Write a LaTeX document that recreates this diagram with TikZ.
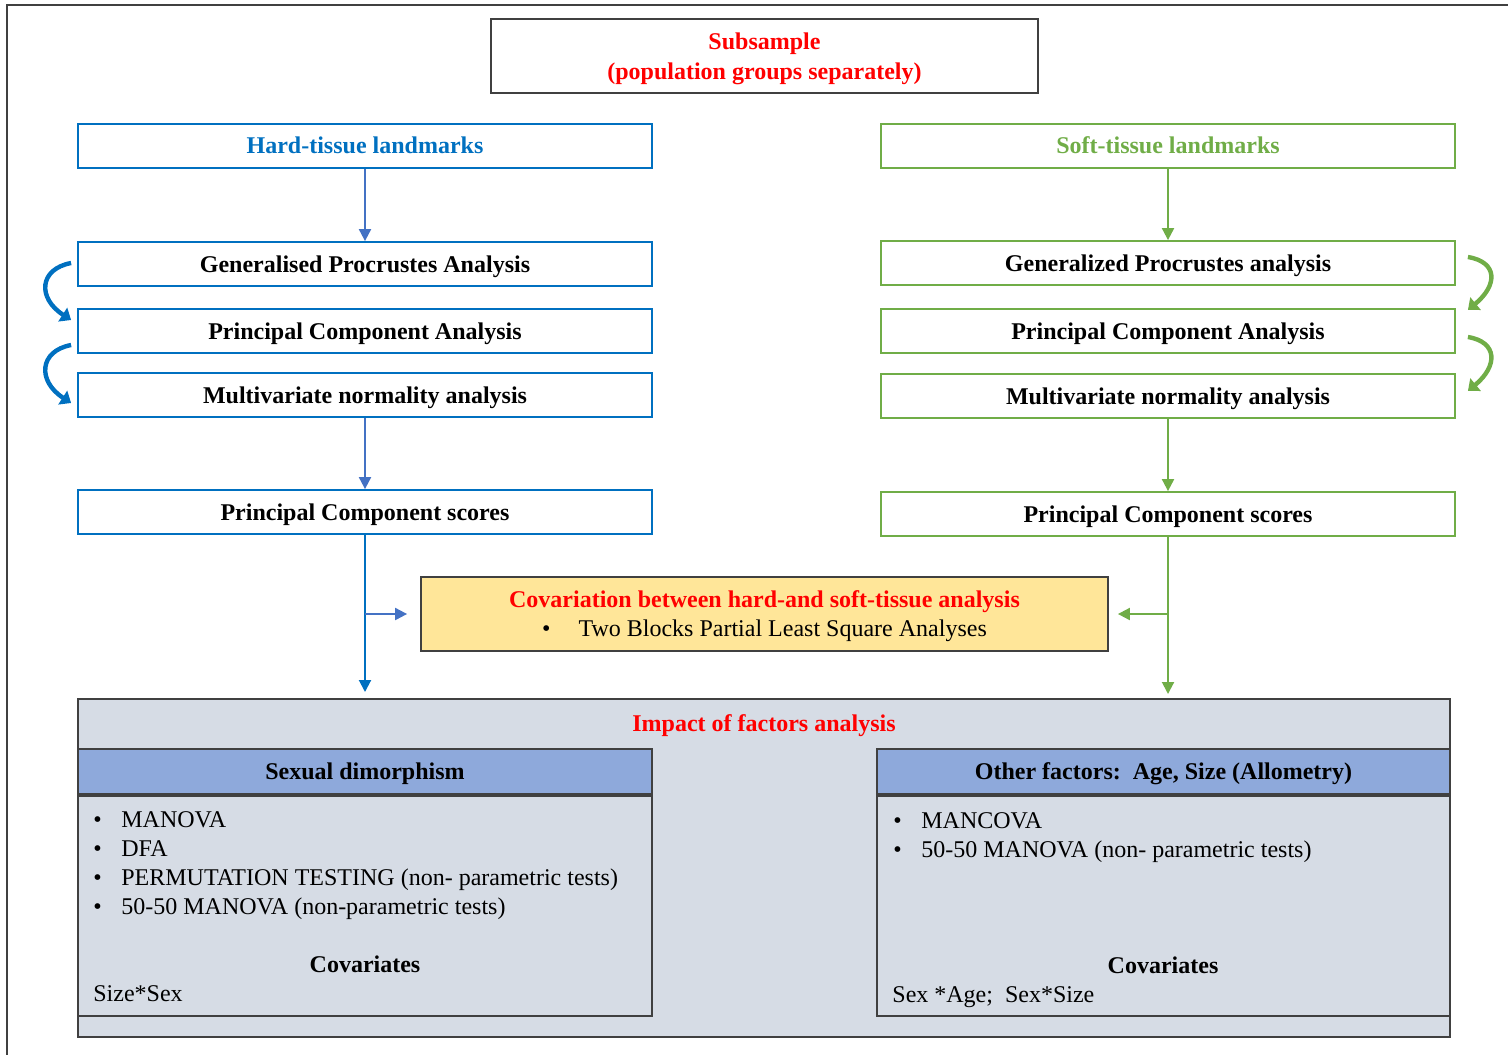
\documentclass[tikz,border=0pt]{standalone}
\usepackage{fontspec}
\setmainfont{Liberation Serif}
\usetikzlibrary{arrows.meta,calc}

\definecolor{hardblue}{RGB}{0,112,192}
\definecolor{arrowblue}{RGB}{68,114,196}
\definecolor{softgreen}{RGB}{112,173,71}
\definecolor{covyellow}{RGB}{255,230,153}
\definecolor{impactgrey}{RGB}{214,220,229}
\definecolor{headblue}{RGB}{142,169,219}
\definecolor{darkline}{RGB}{64,64,64}

\tikzset{
  every node/.style={font=\fontsize{12}{14.5}\selectfont, inner sep=0pt},
  colbox/.style={draw, line width=0.9pt, minimum width=287pt, minimum height=22pt, text height=8pt, text depth=0pt, font=\fontsize{12}{14.5}\selectfont\bfseries},
  hardbox/.style={colbox, draw=hardblue},
  softbox/.style={colbox, draw=softgreen},
  headbox/.style={draw=darkline, fill=headblue, line width=1pt, minimum width=287pt, minimum height=22.5pt, text height=8pt, text depth=0pt, font=\fontsize{12}{14.5}\selectfont\bfseries},
  listbox/.style={draw=darkline, line width=1pt, minimum width=287pt, minimum height=110pt},
  boldtext/.style={font=\fontsize{12}{14.5}\selectfont\bfseries},
  flow/.style={line width=1pt, -{Triangle[width=6pt,length=6pt]}},
  turn/.style={line width=2.2pt, -{Triangle[width=8pt,length=5pt]}},
}

\begin{document}
\begin{tikzpicture}[x=0.5pt,y=-0.5pt]
\useasboundingbox (0,0) rectangle (1508,1054);

%Outer frame
\draw[line width=1.2pt, darkline] (1520,5) -- (7,5) -- (7,1070);

% Subsample
\node[draw=darkline, line width=1pt, minimum width=273.5pt, minimum height=37pt, text depth=0pt, align=center, text=red, font=\fontsize{12}{15}\selectfont\bfseries] (subsample) at (764.5,56) {Subsample\\(population groups separately)};

% Hard-tissue column
\node[hardbox, text=hardblue] (hard) at (365,146) {Hard-tissue landmarks};
\node[hardbox] (gpaL) at (365,264) {Generalised Procrustes Analysis};
\node[hardbox] (pcaL) at (365,331) {Principal Component Analysis};
\node[hardbox] (mnaL) at (365,395) {Multivariate normality analysis};
\node[hardbox] (pcsL) at (365,512) {Principal Component scores};

% Soft-tissue column
\node[softbox, text=softgreen] (soft) at (1168,146) {Soft-tissue landmarks};
\node[softbox] (gpaR) at (1168,263) {Generalized Procrustes analysis};
\node[softbox] (pcaR) at (1168,331) {Principal Component Analysis};
\node[softbox] (mnaR) at (1168,396) {Multivariate normality analysis};
\node[softbox] (pcsR) at (1168,514) {Principal Component scores};

% Covariation
\node[draw=darkline, fill=covyellow, line width=0.9pt, minimum width=343.5pt, minimum height=37pt, text depth=0pt, align=center] (cov) at (764.5,614) {{\color{red}\bfseries Covariation between hard-and soft-tissue analysis}\\\textbullet\hspace{14pt}Two Blocks Partial Least Square Analyses};

% Impact of factors
\node[draw=darkline, fill=impactgrey, line width=1pt, minimum width=686pt, minimum height=169pt] (impact) at (764,868) {};
\node[boldtext, text=red, text height=8pt, text depth=0pt] (impactTitle) at (764,723) {Impact of factors analysis};
\node[headbox] (sexHd) at (365,771.5) {Sexual dimorphism};
\node[listbox] (sexBody) at (365,906) {};
\node[headbox, minimum width=286.5pt] (otherHd) at (1163.5,771.5) {Other factors:~~Age, Size (Allometry)};
\node[listbox, minimum width=286.5pt] (otherBody) at (1163.5,906) {};

\foreach \txt [count=\i] in {MANOVA, DFA, PERMUTATION TESTING (non- parametric tests), 50-50 MANOVA (non-parametric tests)}
  \node[anchor=base west] (sexItem\i) at (93,798+29*\i) {\makebox[14pt][l]{\textbullet}\txt};
\node[boldtext] (sexCov) at (365,964) {Covariates};
\node[anchor=base west] (sexCovList) at (93,1001) {Size*Sex};

\foreach \txt [count=\i] in {MANCOVA, 50-50 MANOVA (non- parametric tests)}
  \node[anchor=base west] (otherItem\i) at (893,799+29*\i) {\makebox[14pt][l]{\textbullet}\txt};
\node[boldtext] (otherCov) at (1163,965) {Covariates};
\node[anchor=base west] (otherCovList) at (892,1002) {Sex *Age;~~Sex*Size};

%Straight Lines
\draw[flow, arrowblue] (hard) -- (gpaL);
\draw[flow, arrowblue] (mnaL) -- (pcsL);
\draw[flow, hardblue, shorten >=3pt] (pcsL.south) -- (pcsL.south |- impact.north);
\draw[flow, arrowblue, shorten >=6.5pt] (pcsL.south |- cov.west) -- (cov.west);
\draw[flow, softgreen] (soft) -- (gpaR);
\draw[flow, softgreen] (mnaR) -- (pcsR);
\draw[flow, softgreen, shorten >=2pt] (pcsR.south) -- (pcsR.south |- impact.north);
\draw[flow, softgreen, shorten >=4.5pt] (pcsR.south |- cov.east) -- (cov.east);

%Curved arrows
\draw[turn, hardblue] ($(gpaL.west)+(-6,-1)$) .. controls +(-32,6) and +(-34,-22) .. ($(pcaL.west)+(-6,-11)$);
\draw[turn, hardblue] ($(pcaL.west)+(-6,14)$) .. controls +(-32,6) and +(-34,-22) .. ($(mnaL.west)+(-6,8)$);
\draw[turn, softgreen] ($(gpaR.east)+(12,-6)$) .. controls +(30,5) and +(30,-25) .. ($(pcaR.east)+(12,-21)$);
\draw[turn, softgreen] ($(pcaR.east)+(12,6)$) .. controls +(30,5) and +(30,-25) .. ($(mnaR.east)+(12,-5)$);

\end{tikzpicture}
\end{document}
